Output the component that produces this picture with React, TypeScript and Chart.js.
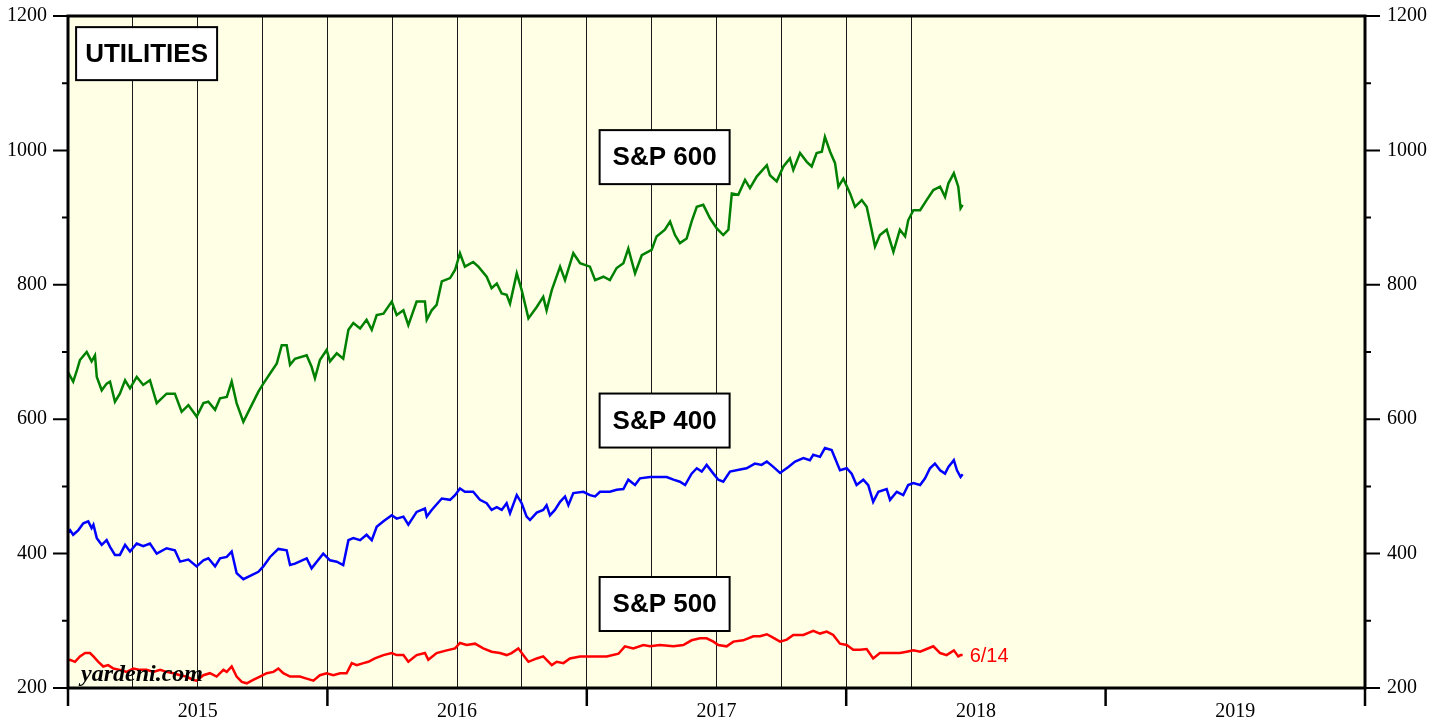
import React, { useEffect, useRef } from 'react';
import { Chart, registerables } from 'chart.js';

Chart.register(...registerables);

// ---- data (decimal year, index level) ----
const sp600: [number, number][] = [
  [2015.000, 670], [2015.020, 656], [2015.033, 671], [2015.046, 688], [2015.072, 700], [2015.091, 686],
  [2015.104, 695], [2015.111, 663], [2015.130, 643], [2015.149, 653], [2015.162, 656], [2015.181, 626],
  [2015.200, 638], [2015.220, 658], [2015.239, 646], [2015.265, 663], [2015.290, 651], [2015.316, 658],
  [2015.342, 624], [2015.380, 638], [2015.412, 638], [2015.438, 611], [2015.464, 621], [2015.496, 604],
  [2015.522, 624], [2015.541, 626], [2015.567, 614], [2015.586, 631], [2015.612, 633], [2015.631, 656],
  [2015.650, 624], [2015.676, 596], [2015.708, 621], [2015.734, 641], [2015.753, 653], [2015.779, 668],
  [2015.805, 683], [2015.824, 710], [2015.843, 710], [2015.856, 681], [2015.875, 690], [2015.920, 695],
  [2015.939, 678], [2015.952, 661], [2015.971, 688], [2015.997, 703], [2016.010, 686], [2016.036, 698],
  [2016.061, 690], [2016.081, 733], [2016.100, 743], [2016.126, 735], [2016.151, 748], [2016.171, 733],
  [2016.190, 755], [2016.216, 757], [2016.248, 775], [2016.267, 755], [2016.293, 762], [2016.312, 740],
  [2016.344, 775], [2016.376, 775], [2016.383, 748], [2016.402, 762], [2016.421, 770], [2016.441, 805],
  [2016.473, 810], [2016.492, 822], [2016.511, 847], [2016.530, 827], [2016.562, 834], [2016.582, 827],
  [2016.614, 812], [2016.633, 795], [2016.653, 802], [2016.672, 787], [2016.691, 785], [2016.704, 772],
  [2016.730, 817], [2016.749, 792], [2016.775, 750], [2016.807, 767], [2016.832, 782], [2016.845, 762],
  [2016.865, 792], [2016.897, 827], [2016.916, 807], [2016.948, 847], [2016.974, 832], [2017.012, 827],
  [2017.032, 807], [2017.064, 812], [2017.089, 807], [2017.115, 825], [2017.141, 832], [2017.160, 854],
  [2017.186, 817], [2017.212, 844], [2017.250, 852], [2017.269, 872], [2017.301, 882], [2017.321, 894],
  [2017.340, 874], [2017.359, 862], [2017.385, 869], [2017.404, 894], [2017.424, 916], [2017.449, 919],
  [2017.475, 899], [2017.501, 884], [2017.526, 874], [2017.546, 882], [2017.559, 936], [2017.584, 934],
  [2017.610, 956], [2017.629, 944], [2017.655, 961], [2017.694, 978], [2017.706, 963], [2017.732, 954],
  [2017.758, 976], [2017.783, 988], [2017.796, 971], [2017.822, 996], [2017.848, 983], [2017.867, 976],
  [2017.886, 996], [2017.906, 998], [2017.918, 1020], [2017.938, 998], [2017.957, 981], [2017.970, 946],
  [2017.989, 958], [2018.015, 936], [2018.034, 916], [2018.060, 926], [2018.079, 916], [2018.098, 882],
  [2018.111, 857], [2018.130, 874], [2018.156, 882], [2018.182, 849], [2018.207, 882], [2018.227, 872],
  [2018.239, 896], [2018.259, 911], [2018.285, 911], [2018.310, 926], [2018.336, 941], [2018.362, 946],
  [2018.381, 931], [2018.394, 951], [2018.415, 966], [2018.432, 946], [2018.441, 914], [2018.449, 919],
];

const sp400: [number, number][] = [
  [2015.000, 432], [2015.008, 435], [2015.020, 428], [2015.040, 435], [2015.059, 445], [2015.078, 448],
  [2015.091, 438], [2015.098, 443], [2015.111, 423], [2015.130, 413], [2015.149, 420], [2015.162, 410],
  [2015.181, 398], [2015.200, 398], [2015.220, 413], [2015.239, 403], [2015.265, 415], [2015.290, 411],
  [2015.316, 415], [2015.342, 400], [2015.380, 408], [2015.412, 405], [2015.432, 388], [2015.464, 391],
  [2015.496, 381], [2015.522, 390], [2015.541, 393], [2015.567, 381], [2015.586, 393], [2015.612, 395],
  [2015.631, 403], [2015.650, 371], [2015.676, 362], [2015.708, 368], [2015.734, 373], [2015.753, 381],
  [2015.779, 395], [2015.811, 407], [2015.843, 405], [2015.856, 383], [2015.875, 385], [2015.920, 393],
  [2015.939, 378], [2015.959, 388], [2015.984, 400], [2016.010, 390], [2016.036, 388], [2016.061, 383],
  [2016.081, 420], [2016.100, 423], [2016.126, 420], [2016.151, 428], [2016.171, 420], [2016.190, 440],
  [2016.216, 448], [2016.248, 457], [2016.267, 452], [2016.293, 455], [2016.312, 443], [2016.344, 462],
  [2016.376, 467], [2016.383, 455], [2016.402, 465], [2016.441, 482], [2016.473, 480], [2016.492, 487],
  [2016.511, 497], [2016.530, 492], [2016.562, 492], [2016.588, 480], [2016.614, 475], [2016.633, 465],
  [2016.653, 469], [2016.672, 465], [2016.691, 475], [2016.704, 460], [2016.730, 487], [2016.749, 475],
  [2016.768, 455], [2016.781, 450], [2016.807, 461], [2016.832, 465], [2016.845, 472], [2016.858, 457],
  [2016.877, 465], [2016.897, 477], [2016.916, 485], [2016.929, 472], [2016.948, 490], [2016.987, 492],
  [2017.012, 487], [2017.032, 485], [2017.051, 492], [2017.089, 492], [2017.115, 495], [2017.141, 496],
  [2017.160, 510], [2017.186, 502], [2017.205, 512], [2017.244, 514], [2017.282, 514], [2017.308, 514],
  [2017.334, 510], [2017.359, 507], [2017.379, 502], [2017.404, 519], [2017.424, 527], [2017.443, 522],
  [2017.462, 532], [2017.488, 519], [2017.507, 510], [2017.526, 507], [2017.552, 522], [2017.591, 525],
  [2017.616, 527], [2017.648, 534], [2017.674, 532], [2017.694, 537], [2017.719, 529], [2017.745, 520],
  [2017.777, 529], [2017.803, 537], [2017.835, 542], [2017.860, 539], [2017.873, 547], [2017.899, 544],
  [2017.918, 557], [2017.944, 554], [2017.957, 542], [2017.976, 524], [2018.002, 527], [2018.021, 519],
  [2018.040, 502], [2018.066, 510], [2018.085, 502], [2018.104, 477], [2018.124, 492], [2018.156, 496],
  [2018.169, 480], [2018.195, 492], [2018.220, 487], [2018.239, 502], [2018.259, 505], [2018.285, 502],
  [2018.304, 512], [2018.323, 527], [2018.342, 534], [2018.362, 524], [2018.381, 519], [2018.394, 529],
  [2018.415, 539], [2018.427, 524], [2018.441, 514], [2018.449, 518],
];

const sp500: [number, number][] = [
  [2015.000, 241], [2015.008, 242], [2015.027, 239], [2015.046, 247], [2015.066, 252], [2015.085, 252],
  [2015.098, 247], [2015.117, 239], [2015.136, 232], [2015.155, 234], [2015.175, 229], [2015.200, 227],
  [2015.226, 224], [2015.252, 229], [2015.278, 227], [2015.303, 227], [2015.329, 224], [2015.355, 227],
  [2015.380, 224], [2015.406, 222], [2015.432, 219], [2015.457, 217], [2015.483, 212], [2015.496, 211],
  [2015.522, 219], [2015.547, 222], [2015.573, 217], [2015.599, 227], [2015.612, 224], [2015.631, 232],
  [2015.650, 217], [2015.670, 209], [2015.689, 207], [2015.714, 212], [2015.740, 217], [2015.766, 222],
  [2015.792, 224], [2015.811, 229], [2015.830, 222], [2015.856, 217], [2015.894, 217], [2015.920, 214],
  [2015.946, 211], [2015.971, 219], [2015.997, 222], [2016.023, 219], [2016.049, 222], [2016.074, 222],
  [2016.094, 237], [2016.113, 234], [2016.139, 237], [2016.158, 239], [2016.183, 244], [2016.216, 249],
  [2016.248, 252], [2016.267, 249], [2016.293, 249], [2016.312, 239], [2016.344, 249], [2016.376, 252],
  [2016.389, 242], [2016.421, 252], [2016.460, 256], [2016.492, 259], [2016.511, 267], [2016.537, 264],
  [2016.569, 266], [2016.601, 259], [2016.633, 254], [2016.665, 252], [2016.691, 249], [2016.710, 252],
  [2016.736, 259], [2016.755, 249], [2016.775, 239], [2016.807, 244], [2016.832, 247], [2016.865, 234],
  [2016.884, 239], [2016.910, 237], [2016.935, 244], [2016.974, 247], [2017.000, 247], [2017.038, 247],
  [2017.077, 247], [2017.122, 251], [2017.147, 262], [2017.179, 259], [2017.218, 264], [2017.244, 262],
  [2017.282, 264], [2017.334, 262], [2017.372, 264], [2017.404, 271], [2017.436, 274], [2017.462, 274],
  [2017.488, 269], [2017.507, 264], [2017.539, 262], [2017.565, 269], [2017.603, 271], [2017.642, 277],
  [2017.668, 277], [2017.694, 280], [2017.713, 276], [2017.745, 269], [2017.771, 272], [2017.796, 279],
  [2017.835, 279], [2017.873, 285], [2017.899, 281], [2017.925, 284], [2017.950, 279], [2017.976, 266],
  [2018.002, 264], [2018.027, 257], [2018.053, 257], [2018.079, 258], [2018.104, 244], [2018.130, 252],
  [2018.156, 252], [2018.182, 252], [2018.207, 252], [2018.233, 254], [2018.259, 256], [2018.285, 254],
  [2018.310, 258], [2018.336, 262], [2018.362, 252], [2018.387, 249], [2018.415, 256], [2018.432, 247],
  [2018.441, 249], [2018.449, 249],
];

const yearLabels = ['2015', '2016', '2017', '2018', '2019'];
const xMin = 2015;
const xMax = 2020;
const yMin = 200;
const yMax = 1200;
const lastDateLabel = '6/14';
const panelTitle = { text: 'UTILITIES', x: 2015.303, y: 1144 };
const seriesLabels = [
  { text: 'S&P 600', x: 2017.3, y: 990 },
  { text: 'S&P 400', x: 2017.3, y: 598 },
  { text: 'S&P 500', x: 2017.3, y: 325 },
];
const sourceLabel = 'yardeni.com';

// ---- styles ----
const BG = '#FFFFE6';
const SERIF = '"Liberation Serif", "Times New Roman", serif';
const SANS = '"Liberation Sans", Arial, sans-serif';

const quarterTicks: number[] = [];
for (let v = xMin; v <= xMax + 1e-9; v += 0.25) quarterTicks.push(Math.round(v * 100) / 100);
const lastGrid = 2018.25;

const decor = {
  id: 'decor',
  beforeDraw(chart: any) {
    const { ctx, chartArea: a } = chart;
    ctx.save();
    ctx.fillStyle = BG;
    ctx.fillRect(a.left, a.top, a.right - a.left, a.bottom - a.top);
    ctx.restore();
  },
  afterDatasetsDraw(chart: any) {
    const { ctx, chartArea: a, scales } = chart;
    const xs = scales.x;
    const ys = scales.y;
    ctx.save();
    const box = (text: string, vx: number, vy: number, w: number, h: number) => {
      const cx = xs.getPixelForValue(vx);
      const cy = ys.getPixelForValue(vy);
      ctx.fillStyle = '#FFFFFF';
      ctx.fillRect(cx - w / 2, cy - h / 2, w, h);
      ctx.lineWidth = 2;
      ctx.strokeStyle = '#000';
      ctx.strokeRect(cx - w / 2, cy - h / 2, w, h);
      ctx.fillStyle = '#000';
      ctx.font = `bold 26px ${SANS}`;
      ctx.textAlign = 'center';
      ctx.textBaseline = 'middle';
      ctx.fillText(text, cx, cy + 1);
    };
    box(panelTitle.text, panelTitle.x, panelTitle.y, 141, 53);
    seriesLabels.forEach((l) => box(l.text, l.x, l.y, 130, 54));

    const last = sp500[sp500.length - 1];
    ctx.fillStyle = '#FF0000';
    ctx.font = `20px ${SANS}`;
    ctx.textAlign = 'left';
    ctx.textBaseline = 'middle';
    ctx.fillText(lastDateLabel, xs.getPixelForValue(last[0]) + 7, ys.getPixelForValue(last[1]) + 1);

    ctx.fillStyle = '#000';
    ctx.font = `italic bold 24px ${SERIF}`;
    ctx.textBaseline = 'alphabetic';
    ctx.fillText(sourceLabel, a.left + 13, a.bottom - 7);
    ctx.restore();
  },
  afterDraw(chart: any) {
    const { ctx, chartArea: a, scales } = chart;
    ctx.save();
    ctx.strokeStyle = '#000';
    // y tick marks
    ctx.lineWidth = 2;
    for (let v = yMin; v <= yMax; v += 100) {
      const y = scales.y.getPixelForValue(v);
      const len = v % 200 === 0 ? 15 : 6;
      ctx.beginPath();
      ctx.moveTo(a.left - len, y);
      ctx.lineTo(a.left, y);
      ctx.moveTo(a.right, y);
      ctx.lineTo(a.right + len, y);
      ctx.stroke();
    }
    // x year tick marks
    ctx.lineWidth = 2.5;
    for (let v = xMin; v <= xMax; v += 1) {
      const x = scales.x.getPixelForValue(v);
      ctx.beginPath();
      ctx.moveTo(x, a.bottom);
      ctx.lineTo(x, a.bottom + 18);
      ctx.stroke();
    }
    // frame
    ctx.lineWidth = 3;
    ctx.strokeRect(a.left, a.top, a.right - a.left, a.bottom - a.top);
    ctx.restore();
  },
};

const toPoints = (arr: [number, number][]) => arr.map(([x, y]) => ({ x, y }));

const fitY = (width: number) => (s: any) => {
  s.width = width;
  s.paddingTop = 0;
  s.paddingBottom = 0;
};

export default function App() {
  const ref = useRef<HTMLCanvasElement>(null);
  useEffect(() => {
    if (!ref.current) return;
    const yTickCb = (v: any) => (Number(v) % 200 === 0 ? String(v) : '');
    const chart = new Chart(ref.current, {
      type: 'line',
      data: {
        datasets: [
          { label: 'S&P 600', data: toPoints(sp600), borderColor: '#008000', borderWidth: 2.5, pointRadius: 0, tension: 0 },
          { label: 'S&P 400', data: toPoints(sp400), borderColor: '#0000FF', borderWidth: 2.5, pointRadius: 0, tension: 0 },
          { label: 'S&P 500', data: toPoints(sp500), borderColor: '#FF0000', borderWidth: 2.5, pointRadius: 0, tension: 0 },
        ],
      },
      options: {
        responsive: false,
        devicePixelRatio: 1,
        animation: false,
        events: [],
        layout: { padding: { top: 16, left: 0, right: 0, bottom: 0 } },
        plugins: { legend: { display: false }, tooltip: { enabled: false }, title: { display: false } },
        scales: {
          x: {
            type: 'linear',
            position: 'bottom',
            min: xMin,
            max: xMax,
            afterBuildTicks: (s: any) => {
              s.ticks = quarterTicks.map((value) => ({ value }));
            },
            afterFit: (s: any) => {
              s.height = 33;
              s.paddingLeft = 0;
              s.paddingRight = 0;
            },
            border: { display: false },
            grid: {
              drawTicks: false,
              lineWidth: 1,
              color: (c: any) => {
                const v = c.tick ? c.tick.value : 0;
                return v > xMin + 0.01 && v <= lastGrid + 0.01 ? '#1a1a1a' : 'rgba(0,0,0,0)';
              },
            },
            ticks: {
              autoSkip: false,
              maxRotation: 0,
              minRotation: 0,
              padding: 12,
              color: '#000',
              font: { family: SERIF, size: 20 },
              callback: (v: any) => {
                const n = Number(v);
                const i = Math.floor(n);
                return Math.abs(n - i - 0.5) < 1e-6 ? yearLabels[i - xMin] ?? '' : '';
              },
            },
          },
          y: {
            type: 'linear',
            position: 'left',
            min: yMin,
            max: yMax,
            afterFit: fitY(68),
            border: { display: false },
            grid: { display: false, drawTicks: false },
            ticks: { stepSize: 100, autoSkip: false, padding: 21, color: '#000', font: { family: SERIF, size: 20 }, callback: yTickCb },
          },
          y2: {
            type: 'linear',
            position: 'right',
            min: yMin,
            max: yMax,
            afterFit: fitY(81),
            border: { display: false },
            grid: { display: false, drawTicks: false },
            ticks: { stepSize: 100, autoSkip: false, padding: 22, color: '#000', font: { family: SERIF, size: 20 }, callback: yTickCb },
          },
        },
      },
      plugins: [decor],
    } as any);
    return () => chart.destroy();
  }, []);
  return (
    <div style={{ position: 'absolute', left: 0, top: 0, width: 1446, height: 721, background: '#FFFFFF', overflow: 'hidden' }}>
      <canvas ref={ref} width={1446} height={721} style={{ display: 'block', width: 1446, height: 721 }} />
    </div>
  );
}
